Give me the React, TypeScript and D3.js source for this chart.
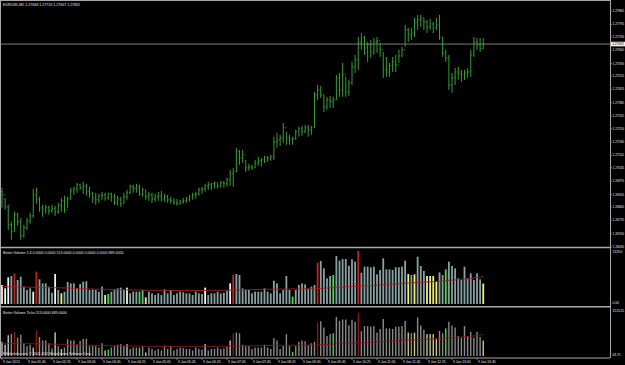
import * as d3 from 'd3';

const W = 625;
const H = 365;

// EURUSD M5, 9 Jan 2012 01:05 .. 13:55 (155 bars)
const firstOpen = 1.2692;
const highs = [
  1.26940, 1.26887, 1.26851, 1.26762, 1.26814, 1.26809, 1.26783, 1.26746, 1.26783, 1.26809,
  1.26935, 1.26940, 1.26893, 1.26851, 1.26851, 1.26846, 1.26851, 1.26846, 1.26861, 1.26887,
  1.26898, 1.26893, 1.26940, 1.26945, 1.26966, 1.26961, 1.26971, 1.26961, 1.26945, 1.26919,
  1.26914, 1.26908, 1.26919, 1.26914, 1.26914, 1.26914, 1.26908, 1.26898, 1.26893, 1.26914,
  1.26929, 1.26956, 1.26956, 1.26961, 1.26956, 1.26940, 1.26929, 1.26919, 1.26914, 1.26908,
  1.26919, 1.26924, 1.26908, 1.26903, 1.26893, 1.26887, 1.26882, 1.26877, 1.26887, 1.26893,
  1.26903, 1.26914, 1.26919, 1.26940, 1.26945, 1.26961, 1.26971, 1.26966, 1.26971, 1.26966,
  1.26976, 1.26976, 1.26992, 1.27034, 1.27044, 1.27149, 1.27138, 1.27138, 1.27086, 1.27065,
  1.27060, 1.27086, 1.27102, 1.27097, 1.27107, 1.27107, 1.27112, 1.27207, 1.27227, 1.27217,
  1.27280, 1.27233, 1.27217, 1.27207, 1.27243, 1.27259, 1.27264, 1.27269, 1.27269, 1.27264,
  1.27442, 1.27478, 1.27473, 1.27426, 1.27416, 1.27421, 1.27416, 1.27531, 1.27541, 1.27594,
  1.27520, 1.27505, 1.27599, 1.27635, 1.27729, 1.27750, 1.27735, 1.27703, 1.27714, 1.27724,
  1.27729, 1.27698, 1.27651, 1.27625, 1.27594, 1.27625, 1.27635, 1.27662, 1.27677, 1.27792,
  1.27777, 1.27777, 1.27829, 1.27845, 1.27845, 1.27829, 1.27818, 1.27824, 1.27808, 1.27829,
  1.27845, 1.27729, 1.27662, 1.27635, 1.27541, 1.27567, 1.27573, 1.27557, 1.27557, 1.27567,
  1.27662, 1.27729, 1.27724, 1.27724, 1.27723,
];
const lows = [
  1.26835, 1.26825, 1.26720, 1.26668, 1.26710, 1.26741, 1.26668, 1.26678, 1.26720, 1.26752,
  1.26783, 1.26856, 1.26814, 1.26788, 1.26804, 1.26799, 1.26809, 1.26793, 1.26804, 1.26814,
  1.26809, 1.26835, 1.26877, 1.26903, 1.26914, 1.26929, 1.26908, 1.26898, 1.26887, 1.26861,
  1.26851, 1.26861, 1.26877, 1.26872, 1.26877, 1.26867, 1.26851, 1.26846, 1.26840, 1.26856,
  1.26877, 1.26908, 1.26914, 1.26914, 1.26898, 1.26893, 1.26877, 1.26872, 1.26861, 1.26867,
  1.26872, 1.26867, 1.26867, 1.26861, 1.26856, 1.26851, 1.26846, 1.26851, 1.26856, 1.26861,
  1.26867, 1.26877, 1.26882, 1.26898, 1.26908, 1.26919, 1.26929, 1.26929, 1.26935, 1.26935,
  1.26940, 1.26940, 1.26945, 1.26950, 1.26945, 1.27023, 1.27060, 1.27070, 1.27023, 1.27029,
  1.27034, 1.27044, 1.27055, 1.27050, 1.27070, 1.27076, 1.27081, 1.27086, 1.27149, 1.27159,
  1.27175, 1.27165, 1.27165, 1.27165, 1.27191, 1.27207, 1.27212, 1.27227, 1.27207, 1.27217,
  1.27254, 1.27400, 1.27410, 1.27337, 1.27348, 1.27358, 1.27358, 1.27400, 1.27416, 1.27416,
  1.27416, 1.27421, 1.27478, 1.27541, 1.27557, 1.27662, 1.27635, 1.27599, 1.27620, 1.27635,
  1.27646, 1.27625, 1.27515, 1.27520, 1.27520, 1.27546, 1.27546, 1.27594, 1.27625, 1.27677,
  1.27703, 1.27714, 1.27729, 1.27766, 1.27782, 1.27766, 1.27750, 1.27766, 1.27750, 1.27766,
  1.27714, 1.27625, 1.27599, 1.27452, 1.27437, 1.27478, 1.27505, 1.27494, 1.27505, 1.27515,
  1.27520, 1.27625, 1.27662, 1.27651, 1.27667,
];
const closes = [
  1.26903, 1.26840, 1.26746, 1.26710, 1.26799, 1.26762, 1.26689, 1.26731, 1.26767, 1.26793,
  1.26903, 1.26877, 1.26835, 1.26825, 1.26835, 1.26820, 1.26830, 1.26814, 1.26846, 1.26872,
  1.26825, 1.26882, 1.26924, 1.26935, 1.26956, 1.26940, 1.26950, 1.26919, 1.26908, 1.26887,
  1.26877, 1.26898, 1.26903, 1.26887, 1.26908, 1.26893, 1.26861, 1.26882, 1.26856, 1.26893,
  1.26914, 1.26945, 1.26935, 1.26950, 1.26908, 1.26929, 1.26893, 1.26903, 1.26882, 1.26893,
  1.26898, 1.26882, 1.26893, 1.26877, 1.26872, 1.26861, 1.26856, 1.26867, 1.26872, 1.26882,
  1.26893, 1.26903, 1.26908, 1.26929, 1.26935, 1.26950, 1.26956, 1.26961, 1.26966, 1.26950,
  1.26966, 1.26961, 1.26982, 1.27013, 1.27023, 1.27128, 1.27097, 1.27112, 1.27044, 1.27050,
  1.27044, 1.27070, 1.27081, 1.27086, 1.27097, 1.27092, 1.27102, 1.27180, 1.27191, 1.27201,
  1.27254, 1.27201, 1.27191, 1.27196, 1.27233, 1.27248, 1.27233, 1.27254, 1.27243, 1.27254,
  1.27426, 1.27452, 1.27426, 1.27363, 1.27400, 1.27390, 1.27400, 1.27515, 1.27452, 1.27531,
  1.27442, 1.27489, 1.27573, 1.27609, 1.27703, 1.27724, 1.27672, 1.27688, 1.27651, 1.27703,
  1.27709, 1.27662, 1.27557, 1.27546, 1.27578, 1.27599, 1.27583, 1.27630, 1.27662, 1.27766,
  1.27740, 1.27750, 1.27808, 1.27818, 1.27829, 1.27808, 1.27782, 1.27797, 1.27777, 1.27792,
  1.27729, 1.27646, 1.27620, 1.27478, 1.27515, 1.27546, 1.27536, 1.27531, 1.27541, 1.27546,
  1.27635, 1.27703, 1.27688, 1.27668, 1.27692,
];

const volumes = [
  476, 393, 669, 702, 769, 602, 685, 435, 351, 393,
  309, 811, 619, 518, 518, 435, 284, 752, 351, 267,
  309, 552, 518, 518, 393, 501, 560, 568, 351, 368,
  351, 309, 435, 226, 251, 309, 351, 393, 410, 351,
  410, 267, 309, 309, 309, 351, 167, 309, 267, 226,
  267, 226, 368, 267, 351, 226, 267, 309, 292, 267,
  267, 226, 309, 267, 251, 410, 226, 267, 267, 309,
  267, 284, 334, 518, 727, 752, 727, 393, 351, 351,
  267, 309, 309, 309, 393, 309, 267, 585, 518, 267,
  351, 702, 351, 184, 351, 476, 518, 493, 376, 435,
  476, 1037, 1078, 894, 644, 702, 727, 1204, 1087, 1128,
  1128, 961, 1120, 1062, 1329, 786, 936, 936, 920, 936,
  744, 853, 1145, 869, 869, 853, 920, 920, 936, 1087,
  752, 727, 744, 1187, 953, 828, 702, 702, 702, 560,
  794, 727, 869, 1062, 953, 894, 644, 602, 936, 644,
  769, 602, 769, 619, 513,
];
// w = white, g = neutral, r = climax, y = low volume, n = churn (green)
const volColors = (
  'wwwgrggggg' + 'wrgggggwgy' + 'gggggggggg' + 'gggynggggg' + 'wgggngyggg' +
  'gggggggggg' + 'gggggwgggg' + 'gggwrggggg' + 'gggggggggg' + 'gggngggggg' +
  'grggggnggg' + 'ggggrggggg' + 'gggggggggg' + 'ygygggyyyy' + 'ggnggggggg' + 'ggggy'
).split('');

// volume average line, read at every 10th bar
const maBars = [0, 10, 20, 30, 40, 50, 60, 70, 80, 90, 100, 110, 120, 130, 140, 150, 154];
const maValues = [435, 420, 402, 372, 355, 342, 336, 345, 362, 375, 382, 430, 470, 525, 570, 640, 689];

const priceTicks = [
  '1.27865', '1.27795', '1.27730', '1.27660', '1.27590', '1.27525', '1.27455', '1.27385',
  '1.27315', '1.27250', '1.27180', '1.27110', '1.27045', '1.26975', '1.26905', '1.26840',
  '1.26770', '1.26700', '1.26630',
];
const timeTickBars = [0, 8, 16, 24, 32, 40, 48, 56, 64, 72, 80, 88, 96, 104, 112, 120, 128, 136, 144, 152];
const timeTickLabels = [
  '9 Jan 2012', '9 Jan 01:45', '9 Jan 02:25', '9 Jan 03:05', '9 Jan 03:45', '9 Jan 04:25',
  '9 Jan 05:05', '9 Jan 05:45', '9 Jan 06:25', '9 Jan 07:05', '9 Jan 07:45', '9 Jan 08:25',
  '9 Jan 09:05', '9 Jan 09:45', '9 Jan 10:25', '9 Jan 11:05', '9 Jan 11:45', '9 Jan 12:25',
  '9 Jan 13:05', '9 Jan 13:45',
];

const colors1: Record<string, string> = { w: '#f2f2f2', g: '#88a2a4', r: '#c42020', y: '#f0f07a', n: '#3ee03e' };
const colors2: Record<string, string> = { w: '#c4c4c4', g: '#8a8a8a', r: '#8c1616', y: '#c8c88a', n: '#38e038' };

const axisX = 610;
const font = '"Liberation Sans", Arial, sans-serif';
const txt = '#e6e6e6';
const grid = '#a8a8a8';

export default function App() {
  const n = closes.length;
  const x = d3.scaleLinear().domain([0, n - 1]).range([2, 2 + (n - 1) * 3.125]);
  const y = d3.scaleLinear().domain([1.2663, 1.27865]).range([247, 11]);
  const yv1 = d3.scaleLinear().domain([0, 1329]).range([304, 251]);
  const yv2 = d3.scaleLinear().domain([63.75, 1523.25]).range([356, 306]);

  const last = closes[n - 1];
  const maLine1 = d3.line<number>().x((_, i) => x(maBars[i])).y(v => yv1(v));
  const maLine2 = d3.line<number>().x((_, i) => x(maBars[i])).y(v => yv2(v));

  const barPath = closes.map((c, i) => {
    const o = i === 0 ? firstOpen : closes[i - 1];
    const cx = x(i);
    return `M${cx},${y(highs[i])}V${y(lows[i])}M${cx - 1},${y(o)}H${cx}M${cx},${y(c)}H${cx + 1}`;
  }).join('');

  return (
    <div style={{ position: 'fixed', left: 0, top: 0, width: W, height: H, background: '#000' }}>
      <svg width={W} height={H} style={{ display: 'block', fontFamily: font }}>
        <rect width={W} height={H} fill="#000" />

        {/* frame */}
        <line x1={0} x2={axisX} y1={0.5} y2={0.5} stroke={grid} strokeWidth={1} />
        <line x1={0.5} x2={0.5} y1={0} y2={358} stroke={grid} strokeWidth={1} />
        <line x1={0} x2={axisX} y1={247.5} y2={247.5} stroke={grid} strokeWidth={1.5} />
        <line x1={0} x2={axisX} y1={306.8} y2={306.8} stroke={grid} strokeWidth={1.5} />
        <line x1={0} x2={axisX} y1={358} y2={358} stroke={grid} strokeWidth={1} />
        <line x1={axisX + 0.5} x2={axisX + 0.5} y1={0} y2={358} stroke={grid} strokeWidth={1} />

        {/* bid line */}
        <line x1={0} x2={axisX} y1={y(last)} y2={y(last)} stroke="#9c9c9c" strokeWidth={0.8} />

        {/* price bars */}
        <path d={barPath} stroke="#3cab3c" strokeWidth={0.9} fill="none" />

        {/* price axis */}
        {priceTicks.map(t => (
          <g key={t}>
            <line x1={axisX} x2={axisX + 2} y1={y(+t)} y2={y(+t)} stroke={grid} strokeWidth={0.6} />
            <text x={axisX + 2.6} y={y(+t) + 1.1} fontSize={3.2} fill={txt}>{t}</text>
          </g>
        ))}
        <rect x={axisX + 1} y={y(last) - 2.3} width={14} height={4.6} fill="#f0f0f0" />
        <text x={axisX + 2.2} y={y(last) + 1.1} fontSize={3.2} fill="#000">{last.toFixed(5)}</text>

        <text x={3} y={5.5} fontSize={3.6} fill={txt}>EURUSD,M5  1.27668 1.27723 1.27667 1.27692</text>

        {/* Better Volume panel */}
        {volumes.map((v, i) => (
          <rect key={'a' + i} x={x(i) - 0.9} y={yv1(v)} width={1.8} height={304 - yv1(v)}
            fill={colors1[volColors[i]]} />
        ))}
        <path d={maLine1(maValues) ?? ''} stroke="#a11e1e" strokeWidth={0.9} fill="none" />
        <text x={3} y={253.8} fontSize={3.6} fill={txt}>
          Better Volume 1.4 0.0000 0.0000 513.0000 0.0000 0.0000 0.0000 689.0000
        </text>
        <text x={axisX + 2.6} y={252.6} fontSize={3.2} fill={txt}>1329.0</text>
        <text x={axisX + 2.6} y={304} fontSize={3.2} fill={txt}>0.00</text>

        {/* Better Volume Ticks panel */}
        {volumes.map((v, i) => (
          <rect key={'b' + i} x={x(i) - 0.7} y={yv2(v)} width={1.4} height={356 - yv2(v)}
            fill={colors2[volColors[i]]} />
        ))}
        <path d={maLine2(maValues) ?? ''} stroke="#7e1818" strokeWidth={0.9} fill="none" />
        <text x={3} y={313.5} fontSize={3.6} fill={txt}>Better Volume Ticks 513.0000 689.0000</text>
        <text x={axisX + 2.6} y={312} fontSize={3.2} fill={txt}>1523.25</text>
        <text x={axisX + 2.6} y={355.5} fontSize={3.2} fill={txt}>63.75</text>
        <text x={3} y={354.5} fontSize={3.4} fill={txt}>FXbluelabs.com, © 2001-2011 MetaQuotes Software Corp.</text>

        {/* time axis */}
        {timeTickBars.map((b, k) => (
          <g key={'t' + b}>
            <line x1={x(b)} x2={x(b)} y1={358} y2={360} stroke={grid} strokeWidth={0.6} />
            <text x={x(b) + 1} y={363.3} fontSize={3.4} fill={txt}>{timeTickLabels[k]}</text>
          </g>
        ))}
      </svg>
    </div>
  );
}
